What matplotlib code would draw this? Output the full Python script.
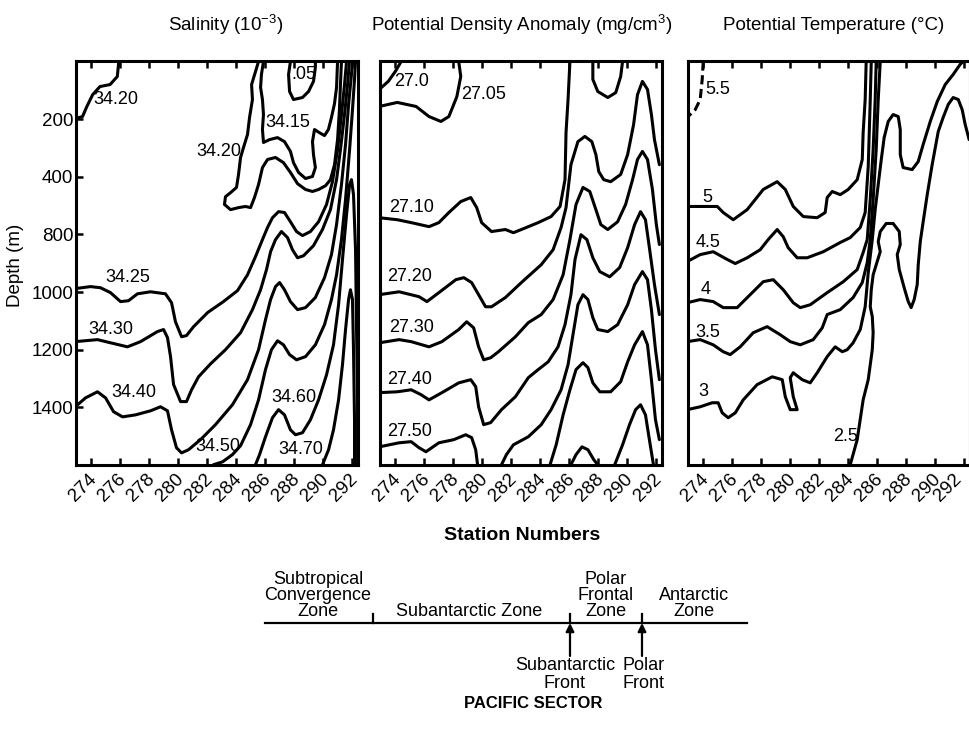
import matplotlib
matplotlib.use("Agg")
import matplotlib.pyplot as plt
from matplotlib.transforms import ScaledTranslation

plt.rcParams['font.family'] = ['Liberation Sans', 'DejaVu Sans']
plt.rcParams['mathtext.fontset'] = 'custom'
plt.rcParams['mathtext.rm'] = 'Liberation Sans'
plt.rcParams['mathtext.it'] = 'Liberation Sans:italic'
plt.rcParams['mathtext.bf'] = 'Liberation Sans:bold'

# ---------------- axes ----------------
stations = [274, 276, 278, 280, 282, 284, 286, 288, 290, 292]
station_labels = ['274', '276', '278', '280', '282', '284', '286', '288', '290', '292']
depth_ticks = [200, 400, 600, 800, 1000, 1200]
depth_labels = ['200', '400', '800', '1000', '1200', '1400']

# ---------------- Salinity (station, depth) ----------------
sal_3420a_st = [275.9, 275.8, 275.3, 274.6, 274.1, 273.7, 273.4, 272.9]
sal_3420a_d = [0, 52, 80, 87, 115, 156, 191, 198]
sal_3420b_st = [285.54, 285.33, 285.06, 285.12, 284.92, 284.78, 284.50, 284.30, 284.16, 284.02, 283.61, 283.26, 283.19,
                283.61, 284.16, 284.64, 284.99, 285.26, 285.54, 285.81, 286.16, 286.71, 287.26, 287.74, 288.23, 288.78,
                289.26, 289.68, 290.16, 290.50, 290.78, 290.99, 291.12, 291.19, 291.26]
sal_3420b_d = [0, 35, 80, 132, 194, 253, 299, 333, 392, 437, 455, 469, 496, 514, 507, 503, 507, 472, 427, 368, 340,
               333, 351, 385, 424, 444, 451, 444, 431, 410, 358, 271, 167, 80, 0]
sal_3415_st = [285.88, 285.74, 285.68, 285.81, 285.88, 285.81, 285.88, 286.30, 286.85, 287.33, 287.74, 287.95, 288.30,
               288.78, 289.26, 289.46, 289.33, 289.26, 289.40, 289.74, 290.09, 290.36, 290.57, 290.78, 290.92, 290.99]
sal_3415_d = [0, 45, 90, 132, 184, 236, 281, 271, 264, 278, 312, 351, 385, 406, 399, 368, 323, 278, 236, 247, 257, 236,
              194, 146, 90, 0]
sal_3405_st = [287.74, 287.61, 287.68, 287.95, 288.57, 288.99, 289.33, 289.46, 289.46]
sal_3405_d = [0, 45, 104, 132, 125, 104, 69, 21, 0]
sal_3425_st = [272.9, 273.95, 274.64, 275.33, 276.02, 276.57, 277.19, 278.09, 279.12, 279.54, 279.81, 280.23, 280.57,
               281.06, 282.03, 283.12, 284.09, 284.78, 285.33, 285.81, 286.16, 286.50, 286.92, 287.33, 287.74, 288.16,
               288.57, 289.12, 289.68, 290.23, 290.64, 290.99, 291.26, 291.47, 291.61]
sal_3425_d = [788, 781, 785, 802, 833, 830, 806, 799, 806, 837, 903, 955, 951, 920, 871, 833, 795, 740, 677, 618, 576,
              542, 521, 524, 556, 590, 604, 590, 556, 496, 417, 306, 184, 80, 0]
sal_3430_st = [272.9, 274.43, 275.33, 276.50, 277.40, 278.57, 278.99, 279.26, 279.47, 279.68, 280.16, 280.57, 280.92,
               281.40, 282.23, 283.26, 284.30, 285.12, 285.68, 286.09, 286.37, 286.71, 287.12, 287.54, 287.88, 288.23,
               288.64, 289.33, 289.95, 290.50, 290.92, 291.19, 291.47, 291.68, 291.81]
sal_3430_d = [972, 965, 976, 990, 972, 937, 930, 958, 1024, 1121, 1180, 1180, 1139, 1094, 1049, 1000, 941, 861, 792,
              722, 660, 618, 590, 611, 653, 681, 674, 639, 583, 514, 410, 306, 184, 80, 0]
sal_3440_st = [272.9, 273.61, 274.43, 274.99, 275.54, 276.16, 277.06, 278.09, 278.78, 279.26, 279.54, 279.88, 280.23,
               280.71, 281.54, 282.57, 283.74, 284.78, 285.54, 286.02, 286.37, 286.71, 286.99, 287.33, 287.74, 288.23,
               288.78, 289.46, 290.09, 290.57, 290.92, 291.26, 291.54, 291.75, 291.95, 292.02]
sal_3440_d = [1198, 1167, 1146, 1167, 1215, 1233, 1226, 1212, 1198, 1212, 1278, 1340, 1358, 1347, 1312, 1260, 1191,
              1104, 1000, 896, 826, 781, 767, 792, 833, 861, 854, 819, 750, 670, 566, 427, 288, 149, 45, 0]
sal_3450_st = [282.43, 283.06, 283.74, 284.30, 284.99, 285.54, 286.02, 286.43, 286.85, 287.26, 287.68, 288.16, 288.78,
               289.46, 290.09, 290.57, 290.92, 291.26, 291.54, 291.82, 292.02, 292.16, 292.23]
sal_3450_d = [1399, 1389, 1364, 1333, 1260, 1174, 1069, 1000, 969, 983, 1017, 1035, 1024, 983, 913, 826, 740, 618, 479,
              306, 167, 62, 0]
sal_3460_st = [285.33, 285.61, 286.02, 286.50, 286.92, 287.33, 287.74, 288.09, 288.57, 289.12, 289.68, 290.23, 290.71,
               291.06, 291.33, 291.61, 291.82, 291.95, 292.09, 292.23, 292.30, 292.37, 292.37]
sal_3460_d = [1399, 1364, 1302, 1236, 1208, 1226, 1278, 1295, 1288, 1243, 1174, 1087, 983, 844, 687, 531, 427, 410, 462,
              653, 930, 1174, 1399]
sal_3470_st = [289.95, 290.37, 290.71, 291.06, 291.33, 291.54, 291.75, 291.88, 292.02, 292.09, 292.16, 292.16]
sal_3470_d = [1399, 1347, 1278, 1174, 1052, 930, 826, 792, 826, 1000, 1243, 1399]

# ---------------- Potential density anomaly ----------------
den_2700_st = [274.41, 274.0, 273.52, 272.9]
den_2700_d = [0, 35, 69, 97]
den_2705_st = [278.38, 278.52, 278.25, 277.70, 277.15, 276.33, 275.44, 274.14, 272.9]
den_2705_d = [0, 52, 122, 191, 208, 191, 156, 142, 156]
den_2710_st = [272.9, 274.14, 275.10, 276.33, 277.01, 277.70, 278.52, 279.21, 279.62, 279.96, 280.64, 281.60, 282.15,
               282.70, 283.86, 284.75, 285.37, 285.71, 285.78, 285.92, 286.05]
den_2710_d = [542, 549, 559, 573, 559, 524, 486, 472, 507, 559, 590, 583, 594, 583, 559, 538, 503, 410, 247, 132, 0]
den_2710u_st = [287.63, 287.63, 287.97, 288.66, 289.21, 289.55, 289.68]
den_2710u_d = [0, 62, 104, 125, 108, 52, 0]
den_2720_st = [272.9, 274.27, 275.64, 276.19, 277.01, 278.18, 278.73, 279.27, 279.75, 280.23, 280.64, 281.60, 282.70,
               284.07, 284.89, 285.44, 285.78, 286.12, 286.60, 287.08, 287.56, 287.84, 288.04, 288.38, 288.86, 289.55,
               290.03, 290.44, 290.71, 291.05, 291.40, 291.67, 291.88, 292.22]
den_2720_d = [809, 799, 816, 833, 802, 757, 750, 767, 809, 851, 851, 819, 767, 705, 653, 576, 507, 358, 278, 260, 278,
              323, 382, 410, 417, 392, 323, 219, 115, 69, 97, 184, 271, 358]
den_2730_st = [272.9, 274.27, 275.10, 276.33, 277.22, 278.38, 278.93, 279.41, 279.75, 280.10, 280.58, 281.12, 282.29,
               283.18, 284.07, 284.89, 285.58, 286.05, 286.47, 286.95, 287.42, 287.84, 288.18, 288.66, 289.34, 289.89,
               290.37, 290.71, 291.05, 291.40, 291.74, 292.01, 292.22]
den_2730_d = [976, 965, 972, 990, 972, 930, 903, 924, 990, 1035, 1028, 1007, 955, 906, 878, 826, 740, 618, 496, 437,
              451, 514, 566, 583, 556, 496, 410, 340, 312, 340, 444, 566, 635]
den_2740_st = [272.9, 274.14, 275.10, 275.78, 276.33, 277.22, 278.38, 279.21, 279.55, 279.75, 280.10, 280.58, 281.33,
               282.29, 283.18, 283.86, 284.55, 285.23, 285.71, 286.12, 286.40, 286.81, 287.22, 287.63, 288.11, 288.79,
               289.48, 290.03, 290.51, 290.92, 291.26, 291.53, 291.88, 292.22]
den_2740_d = [1149, 1146, 1139, 1156, 1174, 1149, 1115, 1104, 1128, 1198, 1260, 1253, 1208, 1163, 1097, 1069, 1042, 990,
              913, 809, 687, 601, 618, 681, 729, 747, 715, 646, 566, 521, 549, 646, 774, 878]
den_2750a_st = [272.9, 274.27, 275.10, 275.64, 276.12, 277.01, 278.04, 278.86, 279.27, 279.55, 279.68]
den_2750a_d = [1337, 1323, 1319, 1340, 1354, 1323, 1312, 1295, 1305, 1347, 1399]
den_2750b_st = [281.33, 281.67, 282.15, 283.18, 284.07, 284.75, 285.44, 285.92, 286.26, 286.60, 286.95, 287.29, 287.63,
                287.97, 288.66, 289.34, 290.03, 290.51, 291.05, 291.40, 291.67, 291.95, 292.22]
den_2750b_d = [1399, 1364, 1330, 1302, 1260, 1208, 1139, 1052, 948, 844, 809, 826, 889, 930, 937, 913, 844, 774, 729,
               757, 861, 1000, 1104]
den_2760_st = [284.68, 285.10, 285.58, 286.05, 286.47, 286.95, 287.29, 287.63, 288.11, 288.86, 289.55, 290.03, 290.51,
               291.05, 291.40, 291.67, 291.95, 292.22]
den_2760_d = [1399, 1330, 1226, 1139, 1069, 1045, 1062, 1115, 1146, 1146, 1111, 1042, 983, 937, 983, 1104, 1243, 1312]
den_2770a_st = [286.12, 286.47, 286.88, 287.29, 287.70, 287.97]
den_2770a_d = [1399, 1364, 1337, 1347, 1382, 1399]
den_2770b_st = [289.14, 289.68, 290.16, 290.58, 290.92, 291.26, 291.53, 291.81]
den_2770b_d = [1399, 1330, 1260, 1208, 1191, 1226, 1312, 1399]

# ---------------- Potential temperature ----------------
tem_55_st = [274.0, 273.93, 273.79, 273.45, 272.9]
tem_55_d = [0, 62, 132, 167, 194]
tem_50_st = [272.9, 274.97, 275.38, 276.07, 277.03, 278.14, 279.10, 279.66, 280.21, 280.90, 281.86, 282.41, 282.55,
             282.90, 283.45, 284.0, 284.62, 284.97, 285.03, 285.17, 285.24]
tem_50_d = [503, 503, 524, 549, 514, 444, 417, 444, 503, 538, 542, 524, 472, 451, 462, 444, 410, 340, 247, 132, 0]
tem_45_st = [272.9, 273.79, 274.69, 275.66, 276.21, 277.03, 277.93, 278.48, 279.10, 279.52, 279.86, 280.48, 281.17,
             282.28, 283.45, 284.14, 284.83, 285.17, 285.38, 285.52, 285.59]
tem_45_d = [694, 670, 660, 687, 701, 681, 653, 618, 583, 608, 646, 681, 681, 660, 628, 611, 576, 524, 365, 132, 0]
tem_40_st = [272.9, 273.79, 274.69, 275.38, 276.34, 277.24, 278.14, 278.83, 279.52, 280.21, 280.69, 281.38, 282.55,
             283.66, 284.62, 285.03, 285.31, 285.52, 285.72, 285.86, 285.93]
tem_40_d = [837, 826, 833, 854, 854, 809, 764, 757, 792, 837, 854, 844, 802, 764, 722, 663, 618, 479, 306, 132, 0]
tem_35_st = [272.9, 273.79, 274.69, 275.38, 275.86, 276.55, 277.45, 278.41, 279.31, 280.0, 280.69, 281.59, 282.21,
             282.55, 283.45, 284.34, 284.97, 285.31, 285.52, 285.72, 285.93, 286.07, 286.21]
tem_35_d = [972, 965, 983, 1007, 1017, 990, 941, 920, 948, 972, 983, 965, 924, 878, 861, 819, 767, 698, 618, 479, 306,
            132, 0]
tem_30_st = [272.9, 273.79, 274.62, 275.03, 275.31, 275.72, 276.21, 276.76, 277.72, 278.76, 279.45, 279.66, 280.0,
             280.48, 280.21, 280.0, 280.21, 280.83, 281.38, 281.86, 282.55, 283.10, 283.59, 283.93, 284.34, 284.83,
             285.17, 285.38, 285.66, 285.86, 286.07, 286.28, 286.48, 286.76, 287.10, 287.45, 287.59, 287.59, 287.79,
             288.41, 288.83, 289.17, 289.66, 290.14, 290.69, 291.24, 291.72, 291.93]
tem_30_d = [1208, 1198, 1184, 1184, 1219, 1236, 1219, 1174, 1121, 1094, 1104, 1163, 1208, 1208, 1163, 1097, 1080, 1104,
            1115, 1080, 1024, 990, 1007, 1000, 976, 930, 851, 733, 618, 514, 427, 340, 264, 208, 184, 191, 236, 323,
            368, 375, 347, 288, 208, 139, 80, 45, 10, 0]
tem_25_st = [284.14, 284.62, 285.03, 285.38, 285.66, 285.72, 285.66, 285.52, 285.59, 285.72, 286.0, 286.21, 286.07,
             286.21, 286.62, 287.10, 287.52, 287.59, 287.38, 287.52, 287.86, 288.14, 288.34, 288.55, 288.76, 288.83,
             288.97, 289.17, 289.45, 289.79, 290.21, 290.55, 290.90, 291.24, 291.59, 291.86, 292.07, 292.34]
tem_25_d = [1399, 1312, 1174, 1104, 1000, 941, 885, 851, 792, 740, 694, 660, 625, 590, 562, 562, 590, 635, 670, 722,
            785, 833, 854, 826, 774, 705, 625, 556, 462, 358, 243, 194, 149, 125, 132, 167, 219, 271]

panels = [
    ("Salinity (10$^{-3}$)", [
        (sal_3420a_st, sal_3420a_d, '-'), (sal_3420b_st, sal_3420b_d, '-'), (sal_3415_st, sal_3415_d, '-'),
        (sal_3405_st, sal_3405_d, '-'), (sal_3425_st, sal_3425_d, '-'), (sal_3430_st, sal_3430_d, '-'),
        (sal_3440_st, sal_3440_d, '-'), (sal_3450_st, sal_3450_d, '-'), (sal_3460_st, sal_3460_d, '-'),
        (sal_3470_st, sal_3470_d, '-')],
     [("34.20", 275.68, 132), ("34.20", 282.79, 312), ("34.15", 287.54, 212), (".05", 288.65, 45),
      ("34.25", 276.50, 750), ("34.30", 275.33, 930), ("34.40", 276.92, 1149), ("34.50", 282.71, 1337),
      ("34.60", 287.95, 1167), ("34.70", 288.43, 1347)]),
    ("Potential Density Anomaly (mg/cm$^3$)", [
        (den_2700_st, den_2700_d, '-'), (den_2705_st, den_2705_d, '-'), (den_2710_st, den_2710_d, '-'),
        (den_2710u_st, den_2710u_d, '-'), (den_2720_st, den_2720_d, '-'), (den_2730_st, den_2730_d, '-'),
        (den_2740_st, den_2740_d, '-'), (den_2750a_st, den_2750a_d, '-'), (den_2750b_st, den_2750b_d, '-'),
        (den_2760_st, den_2760_d, '-'), (den_2770a_st, den_2770a_d, '-'), (den_2770b_st, den_2770b_d, '-')],
     [("27.0", 275.16, 69), ("27.05", 280.10, 115), ("27.10", 275.10, 507), ("27.20", 274.96, 746),
      ("27.30", 275.10, 924), ("27.40", 274.96, 1104), ("27.50", 274.96, 1285)]),
    ("Potential Temperature (\u00b0C)", [
        (tem_55_st, tem_55_d, '--'), (tem_50_st, tem_50_d, '-'), (tem_45_st, tem_45_d, '-'),
        (tem_40_st, tem_40_d, '-'), (tem_35_st, tem_35_d, '-'), (tem_30_st, tem_30_d, '-'),
        (tem_25_st, tem_25_d, '-')],
     [("5.5", 274.97, 97), ("5", 274.28, 472), ("4.5", 274.34, 628), ("4", 274.14, 792), ("3.5", 274.28, 941),
      ("3", 274.0, 1146), ("2.5", 283.79, 1302)]),
]

W, H = 969, 736
fig = plt.figure(figsize=(W / 100, H / 100), dpi=100)

lefts = [76, 380, 688]
width_px = 282
top_px, bot_px = 61.5, 465
title_x = [226, 522, 834]

for i, (title, lines, labels) in enumerate(panels):
    ax = fig.add_axes([lefts[i] / W, 1 - bot_px / H, width_px / W, (bot_px - top_px) / H])
    for st, d, ls in lines:
        ax.plot(st, d, color='black', lw=2.2, ls=ls, solid_capstyle='round',
                dashes=(3, 1.5) if ls == '--' else (None, None))
    for txt, x, y in labels:
        ax.text(x, y, txt, fontsize=13, ha='center', va='center')
    ax.set_xlim(272.95, 292.4)
    ax.set_ylim(1400, 0)
    ax.set_xticks(stations)
    ax.tick_params(axis='x', direction='in', top=True, length=5, width=1.8, pad=4)
    if i == 0:
        ax.set_yticks(depth_ticks)
        ax.set_yticklabels(depth_labels, fontsize=13.5)
        ax.tick_params(axis='y', direction='in', length=5, width=1.8, pad=2)
    else:
        ax.set_yticks([])
    ax.set_xticklabels(station_labels, rotation=45, ha='right', va='top', rotation_mode='anchor', fontsize=13.5)
    xlabs = ax.get_xticklabels()
    for k, lab in enumerate(xlabs):
        dx = -8 if (i == 2 and k == len(xlabs) - 1) else -2
        lab.set_transform(lab.get_transform() + ScaledTranslation(dx / 72, 0, fig.dpi_scale_trans))
    for sp in ax.spines.values():
        sp.set_linewidth(2.2)
    fig.text(title_x[i] / W, 1 - 25 / H, title, fontsize=13.5, ha='center', va='center')

fig.text(15 / W, 1 - 265 / H, 'Depth (m)', rotation=90, fontsize=13.5, ha='center', va='center')
fig.text(522 / W, 1 - 536 / H, 'Station Numbers', fontsize=14, fontweight='bold', ha='center', va='center')

# ---------------- zone schematic ----------------
ann = fig.add_axes([0, 0, 1, 1])
ann.set_xlim(0, W)
ann.set_ylim(H, 0)
ann.axis('off')
ann.plot([265, 747], [623, 623], color='black', lw=1.6)
for xb in [373, 570, 642]:
    ann.plot([xb, xb], [614, 623], color='black', lw=1.6)
for xa in [570, 642]:
    ann.annotate('', xy=(xa, 623), xytext=(xa, 656),
                 arrowprops=dict(arrowstyle='-|>', color='black', lw=1.6, mutation_scale=12, shrinkA=0, shrinkB=0))
zfs = 13
for txt, x, y in [("Subtropical", 318, 580), ("Convergence", 318, 596), ("Zone", 318, 612),
                  ("Subantarctic Zone", 469, 612),
                  ("Polar", 606, 580), ("Frontal", 606, 596), ("Zone", 606, 612),
                  ("Antarctic", 694, 596), ("Zone", 694, 612),
                  ("Subantarctic", 565, 666), ("Front", 565, 683),
                  ("Polar", 644, 666), ("Front", 644, 683)]:
    ann.text(x, y, txt, fontsize=zfs, ha='center', va='center')
ann.text(533, 703, 'PACIFIC SECTOR', fontsize=12, fontweight='bold', ha='center', va='center')

fig.savefig('out.png', dpi=100)
